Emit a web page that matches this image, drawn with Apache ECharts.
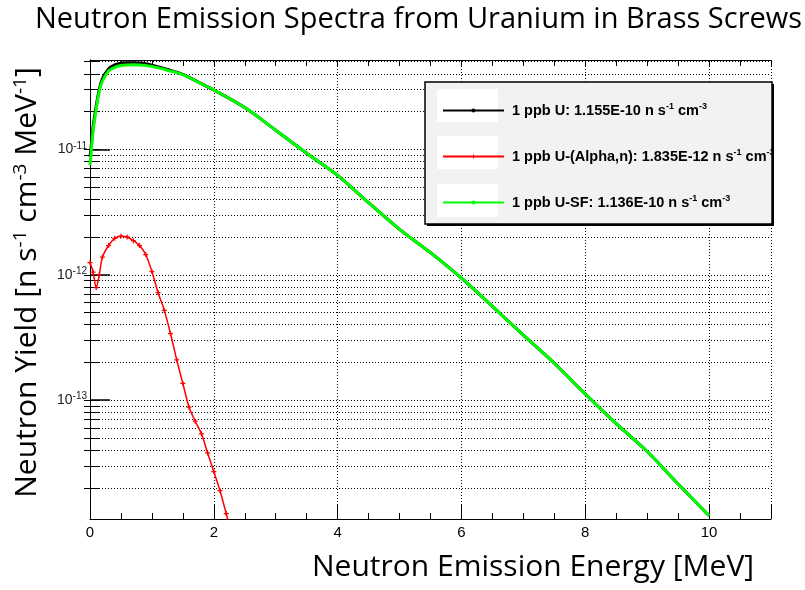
<!DOCTYPE html>
<html>
<head>
<meta charset="utf-8">
<script src="https://cdn.jsdelivr.net/npm/echarts@6/dist/echarts.min.js"></script>
<style>
html, body { margin: 0; padding: 0; background: #fff; }
#main { width: 805px; height: 590px; }
</style>
</head>
<body>
<div id="main"></div>
<script>
// energy bins (MeV) for total and SF curves
var energy = [0, 0.02, 0.05, 0.1, 0.15, 0.2, 0.3, 0.4, 0.5, 0.6, 0.7, 0.8, 0.9, 1.0, 1.25, 1.5, 1.75, 2.0,
    2.5, 3.0, 3.5, 4.0, 4.5, 5.0, 5.5, 6.0, 6.5, 7.0, 7.5, 8.0, 8.5, 9.0, 9.5, 10.0];
var yieldTotal = [8.7e-12, 1.06e-11, 1.5e-11, 2.2e-11, 3.0e-11, 3.65e-11, 4.37e-11, 4.7e-11, 4.85e-11, 4.9e-11,
    4.9e-11, 4.87e-11, 4.8e-11, 4.68e-11, 4.33e-11, 3.96e-11, 3.43e-11, 2.97e-11, 2.15e-11, 1.42e-11, 9.3e-12,
    6.2e-12, 3.75e-12, 2.3e-12, 1.5e-12, 9.4e-13, 5.6e-13, 3.3e-13, 1.97e-13, 1.12e-13, 6.5e-14, 3.9e-14,
    2.15e-14, 1.2e-14];
var yieldSF = [7.5e-12, 9.5e-12, 1.4e-11, 2.1e-11, 2.9e-11, 3.5e-11, 4.2e-11, 4.5e-11, 4.65e-11, 4.7e-11,
    4.72e-11, 4.7e-11, 4.65e-11, 4.58e-11, 4.27e-11, 3.94e-11, 3.42e-11, 2.97e-11, 2.15e-11, 1.42e-11, 9.3e-12,
    6.2e-12, 3.75e-12, 2.3e-12, 1.5e-12, 9.4e-13, 5.6e-13, 3.3e-13, 1.97e-13, 1.12e-13, 6.5e-14, 3.9e-14,
    2.15e-14, 1.2e-14];

// (alpha,n) curve
var energyAlpha = [0, 0.05, 0.1, 0.15, 0.2, 0.3, 0.4, 0.5, 0.6, 0.7, 0.8, 0.9, 1.0, 1.1, 1.2, 1.3, 1.4, 1.5,
    1.6, 1.7, 1.8, 1.9, 2.0, 2.1, 2.2, 2.25];
var yieldAlpha = [1.25e-12, 1.05e-12, 7.9e-13, 1.0e-12, 1.38e-12, 1.71e-12, 1.95e-12, 2.03e-12, 2.0e-12,
    1.87e-12, 1.71e-12, 1.45e-12, 1.06e-12, 7.2e-13, 5.2e-13, 3.4e-13, 2.1e-13, 1.36e-13, 8.8e-14, 6.8e-14,
    5.4e-14, 3.8e-14, 2.7e-14, 1.9e-14, 1.25e-14, 1.0e-14];

var seriesNames = ['1 ppb U', '1 ppb U-(Alpha,n)', '1 ppb U-SF'];
var seriesRates = ['1.155E-10', '1.835E-12', '1.136E-10'];
var seriesColors = ['#000000', '#ff0000', '#00ff00'];

// axis ticks
var xLabelValues = [0, 2, 4, 6, 8, 10];
var xMinorTicks = [0, 0.5, 1, 1.5, 2, 2.5, 3, 3.5, 4, 4.5, 5, 5.5, 6, 6.5, 7, 7.5, 8, 8.5, 9, 9.5, 10, 10.5, 11];
var yLabelValues = [1e-13, 1e-12, 1e-11];

var yMin = 1.13e-14, yMax = 5.15e-11;

// minor grid of a log axis: k * 10^n
var yGridValues = [];
for (var e = -14; e <= -11; e++) {
    for (var k = 1; k <= 9; k++) {
        var v = k * Math.pow(10, e);
        if (v >= yMin && v <= yMax) yGridValues.push(v);
    }
}

function pairs(xs, ys) {
    return xs.map(function (x, i) { return [x, ys[i]]; });
}

var plusIcon = 'path://M3,0H5V3H8V5H5V8H3V5H0V3H3Z';
var dotted = { color: '#000', width: 1, type: [1, 2] };
var black = { color: '#000', width: 1 };
var titleFont = 'Open Sans';

var chart = echarts.init(document.getElementById('main'));

var option = {
    animation: false,
    backgroundColor: '#fff',
    title: {
        text: 'Neutron Emission Spectra from Uranium in Brass Screws',
        left: 30,
        top: 0,
        textStyle: { fontFamily: titleFont, fontWeight: 'normal', fontSize: 29, color: '#000' }
    },
    grid: { left: 90, right: 34, top: 60, bottom: 71 },
    graphic: [
        { type: 'rect', z: 3, z2: 0, shape: { x: 427, y: 84, width: 347, height: 142 }, style: { fill: '#000' } },
        { type: 'rect', z: 3, z2: 1, shape: { x: 425, y: 82, width: 347, height: 142 },
          style: { fill: '#f2f2f2', stroke: '#000', lineWidth: 1.5 } },
        { type: 'rect', z: 3, z2: 2, shape: { x: 437, y: 89, width: 61, height: 33 }, style: { fill: '#fff' } },
        { type: 'rect', z: 3, z2: 2, shape: { x: 437, y: 136, width: 61, height: 33 }, style: { fill: '#fff' } },
        { type: 'rect', z: 3, z2: 2, shape: { x: 437, y: 184, width: 61, height: 33 }, style: { fill: '#fff' } },
        { type: 'text', z: 3, left: 312, top: 552,
          style: { text: 'Neutron Emission Energy [MeV]', fontFamily: titleFont, fontSize: 30, fill: '#000' } }
    ],
    legend: {
        orient: 'vertical',
        left: 437,
        top: 97,
        itemWidth: 61,
        itemHeight: 5,
        itemGap: 30,
        data: seriesNames,
        formatter: function (name) {
            var i = seriesNames.indexOf(name);
            return '{gap|}' + name + ': ' + seriesRates[i] + ' n s{sup|-1} cm{sup|-3}';
        },
        textStyle: {
            fontFamily: 'Liberation Sans', fontWeight: 'bold', fontSize: 14.5, color: '#000',
            rich: {
                gap: { width: 3 },
                sup: { fontFamily: 'Liberation Sans', fontWeight: 'bold', fontSize: 9, color: '#000', padding: [0, 0, 8, 0] }
            }
        }
    },
    xAxis: [
        {
            type: 'value', position: 'bottom', min: 0, max: 11, interval: 2,
            axisLine: { show: true, lineStyle: black },
            axisTick: { show: true, inside: true, length: 14, lineStyle: black },
            axisLabel: {
                customValues: xLabelValues, color: '#000', fontSize: 15,
                fontFamily: 'Liberation Sans', margin: 6
            },
            splitLine: { show: true, lineStyle: dotted }
        },
        {
            type: 'value', position: 'bottom', min: 0, max: 11,
            axisLine: { show: false },
            axisTick: { show: true, inside: true, length: 6, customValues: xMinorTicks, lineStyle: black },
            axisLabel: { show: false },
            splitLine: { show: false }
        },
        {
            type: 'value', position: 'top', min: 0, max: 11,
            axisLine: { show: true, lineStyle: black },
            axisTick: { show: true, inside: true, length: 6, customValues: xMinorTicks, lineStyle: black },
            axisLabel: { show: false },
            splitLine: { show: false }
        }
    ],
    yAxis: [
        {
            type: 'log', logBase: 10, position: 'left', min: yMin, max: yMax,
            name: 'Neutron Yield [n s{sup|-1} cm{sup|-3} MeV{sup|-1}]',
            nameLocation: 'middle',
            nameRotate: 90,
            nameGap: 47,
            nameTextStyle: {
                fontFamily: titleFont, fontSize: 30, color: '#000',
                padding: [0, 0, 0, 14],
                rich: { sup: { fontFamily: titleFont, fontSize: 19, color: '#000', padding: [0, 0, 13, 0] } }
            },
            axisLine: { show: true, lineStyle: black },
            axisTick: { show: true, inside: true, length: 9, customValues: yGridValues, lineStyle: black },
            axisLabel: {
                customValues: yLabelValues,
                margin: 3,
                color: '#222',
                fontFamily: 'Liberation Sans',
                fontSize: 14,
                formatter: function (val) {
                    return '10{sup|' + Math.round(Math.log10(val)) + '}';
                },
                rich: { sup: { fontFamily: 'Liberation Sans', fontSize: 10, color: '#222', padding: [0, 0, 7, 0] } }
            },
            splitLine: { show: true, lineStyle: dotted }
        },
        {
            type: 'log', logBase: 10, position: 'left', min: yMin, max: yMax,
            axisLine: { show: false },
            axisTick: { show: true, inside: true, length: 20, customValues: yLabelValues, lineStyle: { color: '#000', width: 1.5 } },
            axisLabel: { show: false },
            splitLine: { show: false }
        },
        {
            type: 'log', logBase: 10, position: 'right', min: yMin, max: yMax,
            axisLine: { show: true, lineStyle: black },
            axisTick: { show: true, inside: true, length: 6, customValues: yGridValues, lineStyle: black },
            axisLabel: { show: false },
            splitLine: { show: false }
        }
    ],
    series: [
        {
            name: seriesNames[0], type: 'line', xAxisIndex: 0, yAxisIndex: 0,
            data: pairs(energy, yieldTotal),
            smooth: 0.3, symbol: 'circle', symbolSize: 3, showSymbol: false,
            lineStyle: { color: seriesColors[0], width: 3 },
            itemStyle: { color: seriesColors[0] },
            z: 2
        },
        {
            name: seriesNames[1], type: 'line', xAxisIndex: 0, yAxisIndex: 0,
            data: pairs(energyAlpha, yieldAlpha),
            smooth: 0.3, symbol: plusIcon, symbolSize: 5, showSymbol: true,
            lineStyle: { color: seriesColors[1], width: 1.5 },
            itemStyle: { color: seriesColors[1] },
            z: 3
        },
        {
            name: seriesNames[2], type: 'line', xAxisIndex: 0, yAxisIndex: 0,
            data: pairs(energy, yieldSF),
            smooth: 0.3, symbol: 'circle', symbolSize: 3, showSymbol: false,
            lineStyle: { color: seriesColors[2], width: 3 },
            itemStyle: { color: seriesColors[2] },
            z: 4
        }
    ]
};

chart.setOption(option);
</script>
</body>
</html>
